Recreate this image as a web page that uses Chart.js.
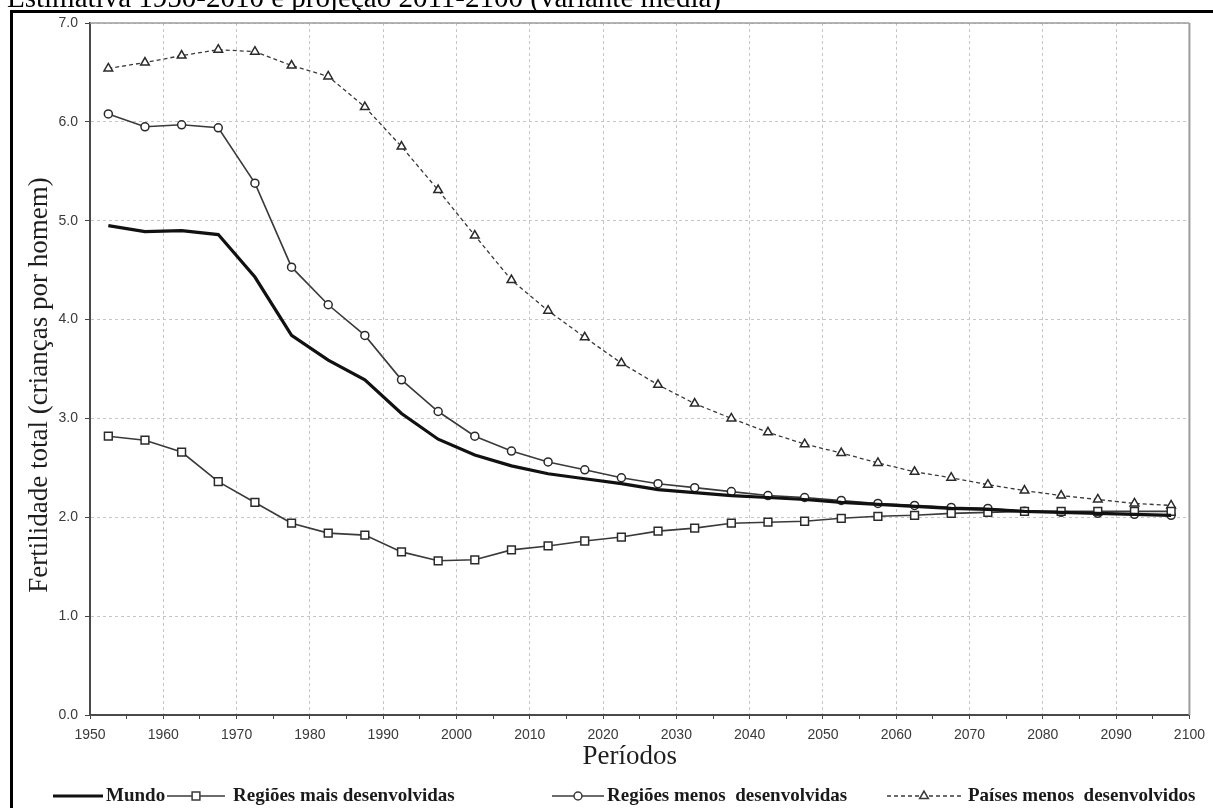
<!DOCTYPE html>
<html>
<head>
<meta charset="utf-8">
<script src="https://cdn.jsdelivr.net/npm/chart.js@4"></script>
<style>
  body { margin: 0; background: #fff; }
  #wrap { width: 1213px; height: 808px; }
</style>
</head>
<body>
<div id="wrap"><canvas id="fertChart" width="1213" height="808"></canvas></div>
<script>
// midpoints of the five-year periods 1950-1955 ... 2095-2100
const periodos = [1952.5, 1957.5, 1962.5, 1967.5, 1972.5, 1977.5, 1982.5, 1987.5, 1992.5, 1997.5,
  2002.5, 2007.5, 2012.5, 2017.5, 2022.5, 2027.5, 2032.5, 2037.5, 2042.5, 2047.5,
  2052.5, 2057.5, 2062.5, 2067.5, 2072.5, 2077.5, 2082.5, 2087.5, 2092.5, 2097.5];

const mundo = [4.95, 4.89, 4.90, 4.86, 4.43, 3.84, 3.59, 3.39, 3.05, 2.79,
  2.63, 2.52, 2.44, 2.39, 2.34, 2.28, 2.25, 2.22, 2.20, 2.18,
  2.15, 2.13, 2.11, 2.09, 2.08, 2.06, 2.05, 2.04, 2.03, 2.02];

const maisDesenvolvidas = [2.82, 2.78, 2.66, 2.36, 2.15, 1.94, 1.84, 1.82, 1.65, 1.56,
  1.57, 1.67, 1.71, 1.76, 1.80, 1.86, 1.89, 1.94, 1.95, 1.96,
  1.99, 2.01, 2.02, 2.04, 2.05, 2.06, 2.06, 2.06, 2.06, 2.06];

const menosDesenvolvidas = [6.08, 5.95, 5.97, 5.94, 5.38, 4.53, 4.15, 3.84, 3.39, 3.07,
  2.82, 2.67, 2.56, 2.48, 2.40, 2.34, 2.30, 2.26, 2.22, 2.20,
  2.17, 2.14, 2.12, 2.10, 2.09, 2.06, 2.05, 2.04, 2.03, 2.02];

const paisesMenos = [6.54, 6.60, 6.67, 6.73, 6.71, 6.57, 6.46, 6.15, 5.75, 5.31,
  4.85, 4.40, 4.09, 3.82, 3.56, 3.34, 3.15, 3.00, 2.86, 2.74,
  2.65, 2.55, 2.46, 2.40, 2.33, 2.27, 2.22, 2.18, 2.14, 2.12];

const seriesNomes = ["Mundo", "Regiões mais desenvolvidas", "Regiões menos  desenvolvidas", "Países menos  desenvolvidos"];
const yTicks = [0, 1, 2, 3, 4, 5, 6, 7];

const titulo = "Estimativa 1950-2010 e projeção 2011-2100 (variante média)";
const tituloY = "Fertilidade total (crianças por homem)";
const tituloX = "Períodos";

const fertCtx = document.querySelector("#fertChart");

function pontos(valores) {
  return periodos.map((x, i) => ({ x: x, y: valores[i] }));
}

// legend sample positions (line start/end, marker x, text x)
const legendaPos = [
  { x0: 53, x1: 103, mx: null, tx: 106 },
  { x0: 167, x1: 225, mx: 196, tx: 233 },
  { x0: 552, x1: 604, mx: 578, tx: 607 },
  { x0: 887, x1: 962, mx: 924, tx: 968 },
];

// frame, titles, plot border and legend
const decorPlugin = {
  id: "decor",
  beforeDatasetsDraw(chart) {
    const { ctx, chartArea: a } = chart;
    ctx.save();
    ctx.strokeStyle = "#9c9c9c";
    ctx.lineWidth = 1.5;
    ctx.beginPath();
    ctx.moveTo(a.left, a.top);
    ctx.lineTo(a.right, a.top);
    ctx.stroke();
    ctx.lineWidth = 2;
    ctx.beginPath();
    ctx.moveTo(a.right, a.top);
    ctx.lineTo(a.right, a.bottom);
    ctx.stroke();
    ctx.restore();
  },
  afterDraw(chart) {
    const { ctx, chartArea: a } = chart;
    ctx.save();

    // black frame, cut at right and bottom
    ctx.fillStyle = "#000";
    ctx.fillRect(10, 10, 1213 - 10, 3);
    ctx.fillRect(10, 10, 3, 808 - 10);

    // title (only its lower part is visible)
    ctx.font = '29px "Liberation Serif"';
    ctx.textAlign = "left";
    ctx.textBaseline = "alphabetic";
    ctx.fillText(titulo, 7, 7);

    // y title
    ctx.fillStyle = "#1e1e1e";
    ctx.font = '27px "Liberation Serif"';
    ctx.save();
    ctx.translate(47, 385);
    ctx.rotate(-Math.PI / 2);
    ctx.textAlign = "center";
    ctx.fillText(tituloY, 0, 0);
    ctx.restore();

    // x title
    ctx.textAlign = "center";
    ctx.fillText(tituloX, (a.left + a.right) / 2 - 10, 764);

    // legend
    const ly = 796;
    chart.data.datasets.forEach((ds, i) => {
      const p = legendaPos[i];
      ctx.strokeStyle = ds.borderColor;
      ctx.lineWidth = ds.borderWidth;
      ctx.setLineDash(ds.borderDash || []);
      ctx.beginPath();
      ctx.moveTo(p.x0, ly);
      ctx.lineTo(p.x1, ly);
      ctx.stroke();
      ctx.setLineDash([]);
      if (p.mx !== null) {
        ctx.fillStyle = "#fff";
        ctx.lineWidth = ds.pointBorderWidth;
        Chart.helpers.drawPoint(ctx, {
          pointStyle: ds.pointStyle,
          radius: ds.pointRadius,
          borderWidth: ds.pointBorderWidth,
          rotation: 0,
        }, p.mx, ly);
      }
      ctx.fillStyle = "#1a1a1a";
      ctx.font = 'bold 19px "Liberation Serif"';
      ctx.textAlign = "left";
      ctx.fillText(seriesNomes[i], p.tx, 801);
    });

    ctx.restore();
  },
};

const fertChart = new Chart(fertCtx, {
  type: "line",
  data: {
    datasets: [
      {
        label: seriesNomes[0],
        data: pontos(mundo),
        borderColor: "#111",
        borderWidth: 3.2,
        pointRadius: 0,
        pointStyle: false,
        tension: 0,
      },
      {
        label: seriesNomes[1],
        data: pontos(maisDesenvolvidas),
        borderColor: "#3a3a3a",
        borderWidth: 1.6,
        pointStyle: "rect",
        pointRadius: 5.5,
        pointBorderWidth: 1.5,
        pointBackgroundColor: "#fff",
        pointBorderColor: "#2a2a2a",
      },
      {
        label: seriesNomes[2],
        data: pontos(menosDesenvolvidas),
        borderColor: "#3a3a3a",
        borderWidth: 1.6,
        pointStyle: "circle",
        pointRadius: 4,
        pointBorderWidth: 1.5,
        pointBackgroundColor: "#fff",
        pointBorderColor: "#2a2a2a",
      },
      {
        label: seriesNomes[3],
        data: pontos(paisesMenos),
        borderColor: "#3a3a3a",
        borderWidth: 1.3,
        borderDash: [4, 3],
        pointStyle: "triangle",
        pointRadius: 5,
        pointBorderWidth: 1.5,
        pointBackgroundColor: "#fff",
        pointBorderColor: "#2a2a2a",
      },
    ],
  },
  options: {
    responsive: false,
    animation: false,
    layout: { padding: { left: 0, right: 18, top: 23, bottom: 0 } },
    plugins: {
      legend: { display: false },
      tooltip: { enabled: false },
    },
    scales: {
      x: {
        type: "linear",
        min: 1950,
        max: 2100,
        afterFit: (s) => { s.height = 93; },
        ticks: {
          stepSize: 5,
          autoSkip: false,
          maxRotation: 0,
          padding: 8,
          color: "#3a3a3a",
          font: { family: '"Liberation Sans"', size: 14 },
          callback: (v) => (v % 10 === 0 ? String(v) : ""),
        },
        grid: {
          color: (c) => (c.tick && c.tick.value % 10 === 0 ? "#c6c6c6" : "rgba(0,0,0,0)"),
          tickColor: "#444",
          tickLength: 4,
          lineWidth: 1,
        },
        border: { color: "#4a4a4a", width: 2, dash: [3, 3] },
      },
      y: {
        min: 0,
        max: 7,
        afterFit: (s) => { s.width = 90; },
        afterBuildTicks: (s) => { s.ticks = yTicks.map((v) => ({ value: v })); },
        ticks: {
          padding: 7,
          color: "#3a3a3a",
          font: { family: '"Liberation Sans"', size: 14 },
          callback: (v) => v.toFixed(1),
        },
        grid: {
          color: "#c6c6c6",
          tickColor: "#444",
          tickLength: 5,
          lineWidth: 1,
        },
        border: { color: "#4a4a4a", width: 2, dash: [3, 3] },
      },
    },
  },
  plugins: [decorPlugin],
});
</script>
</body>
</html>
